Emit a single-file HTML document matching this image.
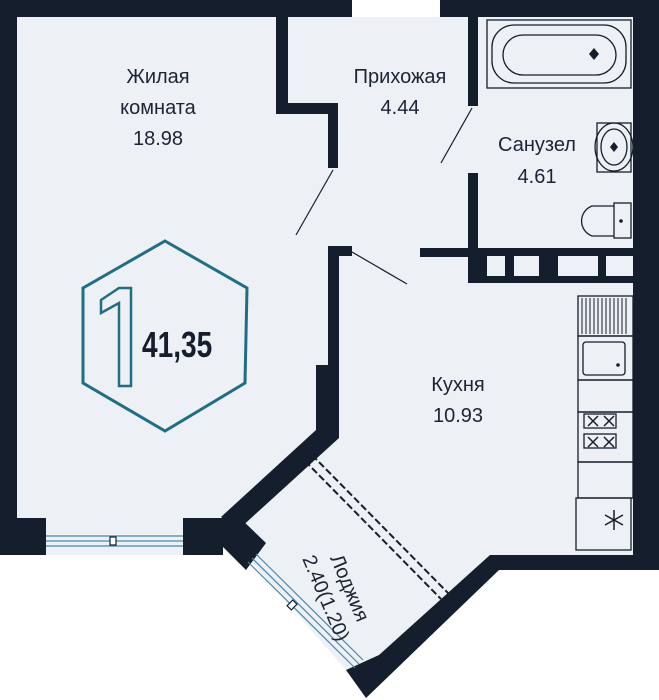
<!DOCTYPE html>
<html><head><meta charset="utf-8"><style>
html,body{margin:0;padding:0;background:#fff;}
svg{display:block}
text{font-family:"Liberation Sans",sans-serif;fill:#1b2435}
</style></head><body>
<svg width="659" height="700" viewBox="0 0 659 700" xmlns="http://www.w3.org/2000/svg">
<polygon points="0,0 659,0 659,570 499,570 366,698 346,670 250,560 221,545 183,555 0,555" fill="#edf0f4"/>
<rect x="352" y="0" width="88" height="17" fill="#fff"/>
<g fill="#151e2d">
<rect x="0" y="0" width="352" height="17"/>
<rect x="440" y="0" width="219" height="17"/>
<rect x="0" y="0" width="17" height="555"/>
<rect x="0" y="518" width="46" height="37"/>
<rect x="633" y="0" width="26" height="570"/>
<rect x="490" y="555" width="169" height="15"/>
<polygon points="379,655 490,555 499,570 366,698 346,670"/>
<rect x="276" y="17" width="12" height="97"/>
<rect x="276" y="103" width="62" height="11"/>
<rect x="328" y="103" width="10" height="65"/>
<rect x="468" y="17" width="10" height="89"/>
<rect x="468" y="173" width="10" height="110"/>
<rect x="420" y="248" width="213" height="9"/>
<rect x="468" y="248" width="165" height="35"/>
<rect x="328" y="246" width="24" height="10"/>
<rect x="328" y="246" width="11" height="190"/>
<rect x="316" y="365" width="23" height="70"/>
<polygon points="316,430 339,430 339,438 238,530 221,517"/>
<rect x="183" y="518" width="40" height="37"/>
<polygon points="221,518 240,518 266,543 246,570 221,545"/>
</g>
<g fill="#edf0f4">
<rect x="487" y="256" width="18" height="20"/>
<rect x="514" y="256" width="25" height="20"/>
<rect x="558" y="256" width="40" height="20"/>
<rect x="606" y="256" width="27" height="20"/>
</g>
<g stroke="#151e2d" stroke-width="1.2">
<line x1="333" y1="170" x2="296" y2="235"/>
<line x1="472" y1="108" x2="441" y2="163"/>
<line x1="352" y1="252" x2="407" y2="284"/>
</g>
<g stroke="#4a86a8" stroke-width="1.2">
<line x1="46" y1="536" x2="183" y2="536"/>
<line x1="46" y1="541" x2="183" y2="541"/>
<line x1="46" y1="546" x2="183" y2="546"/>
<line x1="252" y1="558" x2="359" y2="664"/>
<line x1="248" y1="562" x2="355" y2="668"/>
<line x1="256" y1="554" x2="363" y2="660"/>
</g>
<rect x="110" y="537" width="6" height="8" fill="#fff" stroke="#151e2d" stroke-width="1.2"/>
<rect x="289" y="601" width="6" height="8" fill="#fff" stroke="#151e2d" stroke-width="1.2" transform="rotate(45 292 605)"/>
<g stroke="#151e2d" stroke-width="2" stroke-dasharray="7,3">
<line x1="305" y1="461" x2="441" y2="599"/>
<line x1="312" y1="455" x2="448" y2="593"/>
</g>
<g fill="none" stroke="#151e2d" stroke-width="1.3">
<rect x="487" y="20" width="144" height="68"/>
<rect x="492" y="25" width="134" height="58" rx="22"/>
<rect x="503" y="35" width="113" height="40" rx="20"/>
<rect x="597" y="123" width="34" height="49"/>
<ellipse cx="614" cy="147" rx="19" ry="24"/>
<ellipse cx="614" cy="147" rx="13" ry="18"/>
<rect x="614" y="203" width="17" height="35"/>
<path d="M614,206 L592,206 A16,16 0 0 0 592,236 L614,236"/>
<rect x="578" y="296" width="55" height="40"/>
<rect x="578" y="336" width="55" height="44"/>
<rect x="583" y="342" width="42" height="33" rx="3"/>
<rect x="578" y="380" width="55" height="32"/>
<rect x="578" y="412" width="55" height="50"/>
<rect x="578" y="462" width="55" height="36"/>
<rect x="576" y="498" width="55" height="52"/>
</g>
<g stroke="#151e2d" stroke-width="1">
<path d="M582,298V334M586,298V334M590,298V334M594,298V334M598,298V334M602,298V334M606,298V334M610,298V334M614,298V334M618,298V334M622,298V334M626,298V334"/>
<path d="M588,416l10,10m0,-10l-10,10M604,416l10,10m0,-10l-10,10M588,437l10,10m0,-10l-10,10M604,437l10,10m0,-10l-10,10" stroke-width="1.5"/>
<path d="M614,510v20M605,515l18,10M605,525l18,-10" stroke-width="1.5"/>
</g>
<g fill="none" stroke="#151e2d" stroke-width="1.3">
<rect x="584" y="414" width="32" height="14"/><rect x="584" y="434" width="32" height="14"/>
</g>
<circle cx="618" cy="365" r="1.8" fill="#151e2d"/>
<circle cx="621" cy="221" r="1.8" fill="#151e2d"/>
<polygon points="594,48 599,54 594,60 589,54" fill="#151e2d"/>
<polygon points="614,142 618,147 614,152 610,147" fill="#151e2d"/>
<polygon points="165,241 247,288 245,383 165,431 83,383 83,288" fill="none" stroke="#1f6e85" stroke-width="3"/>
<path d="M101,300 L119,288 L131,288 L131,386 L119,386 L119,303 L101,313 Z" fill="none" stroke="#1f6e85" stroke-width="2.5"/>
<text x="142" y="357" font-size="36" font-weight="bold" transform="translate(142 357) scale(0.78 1) translate(-142 -357)" style="fill:#151e2d">41,35</text>
<g font-size="20" text-anchor="middle">
<text x="158" y="83">Жилая</text>
<text x="158" y="114">комната</text>
<text x="158" y="145">18.98</text>
<text x="400" y="83">Прихожая</text>
<text x="400" y="114">4.44</text>
<text x="537" y="151">Санузел</text>
<text x="537" y="183">4.61</text>
<text x="458" y="391">Кухня</text>
<text x="458" y="422">10.93</text>
</g>
<g font-size="20" text-anchor="middle" transform="translate(340 592) rotate(67)">
<text x="0" y="-4">Лоджия</text>
<text x="0" y="22">2.40(1.20)</text>
</g>
</svg>
</body></html>
